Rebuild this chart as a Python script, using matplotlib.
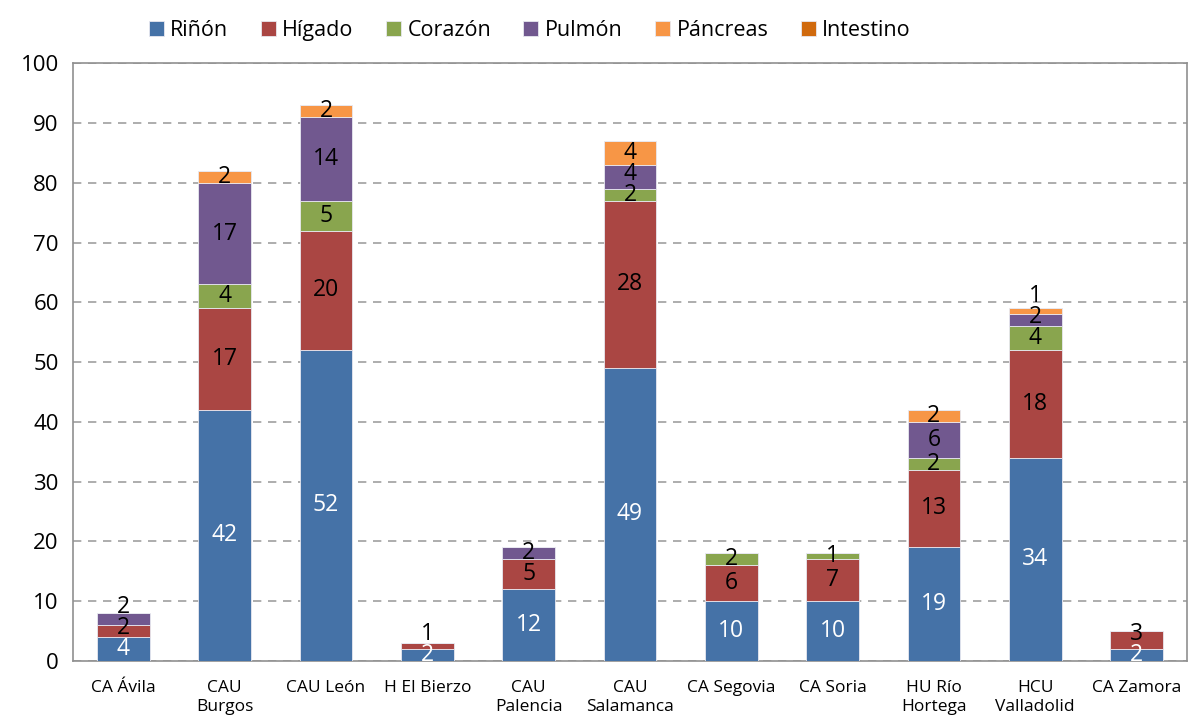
import numpy as np
import matplotlib.pyplot as plt

plt.rcParams['font.family'] = ['Open Sans', 'DejaVu Sans']

# Centros y órganos trasplantados
centros = ['CA Ávila', 'CAU\nBurgos', 'CAU León', 'H El Bierzo', 'CAU\nPalencia',
           'CAU\nSalamanca', 'CA Segovia', 'CA Soria', 'HU Río\nHortega',
           'HCU\nValladolid', 'CA Zamora']
organos = ['Riñón', 'Hígado', 'Corazón', 'Pulmón', 'Páncreas', 'Intestino']

rinon = [4, 42, 52, 2, 12, 49, 10, 10, 19, 34, 2]
higado = [2, 17, 20, 1, 5, 28, 6, 7, 13, 18, 3]
corazon = [0, 4, 5, 0, 0, 2, 2, 1, 2, 4, 0]
pulmon = [2, 17, 14, 0, 2, 4, 0, 0, 6, 2, 0]
pancreas = [0, 2, 2, 0, 0, 4, 0, 0, 2, 1, 0]
intestino = [0, 0, 0, 0, 0, 0, 0, 0, 0, 0, 0]

series = [rinon, higado, corazon, pulmon, pancreas, intestino]
colores = ['#4572A7', '#AA4643', '#89A54E', '#71588F', '#F79646', '#D06A0E']

fig = plt.figure(figsize=(11.92, 7.27), dpi=100)
ax = fig.add_axes([0.061, 0.091, 0.935, 0.822])

x = np.arange(len(centros))
bottom = np.zeros(len(centros))
etiquetas = [[] for _ in centros]  # (y, texto, color) por barra
for nombre, vals, col in zip(organos, series, colores):
    vals = np.array(vals)
    ax.bar(x, vals, 0.52, bottom=bottom, color=col, label=nombre, zorder=3,
           edgecolor='#e8e8f0', linewidth=0.6)
    txt_col = 'white' if nombre == 'Riñón' else 'black'
    for i, (b, v) in enumerate(zip(bottom, vals)):
        if v > 0:
            etiquetas[i].append([b + v / 2, str(v), txt_col])
    bottom += vals

# evitar que las etiquetas pequeñas se monten (como hace Excel)
gap = 3.5
for i, labs in enumerate(etiquetas):
    for j in range(1, len(labs)):
        if labs[j][0] - labs[j - 1][0] < gap:
            labs[j][0] = labs[j - 1][0] + gap
    for y, t, c in labs:
        ax.text(x[i], y, t, ha='center', va='center', fontsize=16.5,
                color=c, zorder=4)

ax.set_xlim(-0.5, len(centros) - 0.5)
ax.set_ylim(0, 100)
ax.set_yticks(range(0, 101, 10))
ax.yaxis.grid(True, linestyle=(0, (5, 4)), color='#a0a0a0', linewidth=1.2, zorder=0)
ax.set_xticks(x)
ax.set_xticklabels(centros, fontsize=12.5)
ax.tick_params(axis='x', length=0, pad=14)
ax.tick_params(axis='y', labelsize=16, length=0, pad=10)
for s in ax.spines.values():
    s.set_color('#909090')
    s.set_linewidth(1.2)

ax.legend(loc='lower center', bbox_to_anchor=(0.41, 1.005), ncol=6, frameon=False,
          fontsize=15.5, handlelength=0.7, handleheight=0.7, handletextpad=0.3,
          columnspacing=1.5)

fig.savefig('out.png', dpi=100)
